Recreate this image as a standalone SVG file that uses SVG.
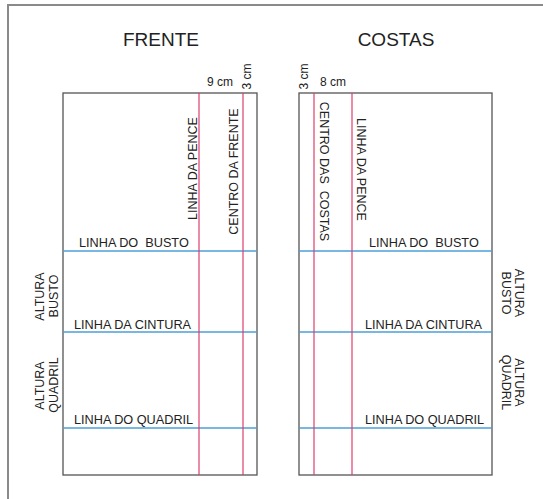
<svg xmlns="http://www.w3.org/2000/svg" width="543" height="499" viewBox="0 0 543 499">
<style>
text{font-family:"Liberation Sans",Arial,sans-serif;fill:#222}
.title{font-size:19px;text-anchor:middle}
.lbl{font-size:12.7px}
.vl{font-size:12.5px;text-anchor:middle}
.sm{font-size:12px}
.panel{fill:#fff;stroke:#555;stroke-width:1.3}
.red{stroke:#dc3f6e;stroke-width:1.2;fill:none}
.blue{stroke:#4a9fd8;stroke-width:1.4;fill:none}
.frame{stroke:#8a8a8a;stroke-width:2;fill:none}
</style>
<rect width="543" height="499" fill="#fff"/>
<path class="frame" d="M8,499 V5 H543"/>
<g id="titles">
<text class="title" x="161" y="46">FRENTE</text>
<text class="title" x="396" y="46">COSTAS</text>
</g>
<g id="frente">
<rect class="panel" x="63" y="93" width="194" height="382"/>
<g id="frente-lines">
<line class="blue" x1="63" y1="251" x2="257" y2="251"/>
<line class="blue" x1="63" y1="332" x2="257" y2="332"/>
<line class="blue" x1="63" y1="428" x2="257" y2="428"/>
<line class="red" x1="199" y1="93" x2="199" y2="475"/>
<line class="red" x1="243" y1="93" x2="243" y2="475"/>
</g>
<text class="sm" x="207" y="86">9 cm</text>
<text class="sm" text-anchor="middle" transform="translate(251,76.5) rotate(-90)">3 cm</text>
<text class="vl" transform="translate(197,168.5) rotate(-90)">LINHA DA PENCE</text>
<text class="vl" transform="translate(238,171.5) rotate(-90)">CENTRO DA FRENTE</text>
<text class="lbl" x="79" y="247" xml:space="preserve">LINHA DO  BUSTO</text>
<text class="lbl" x="74" y="329">LINHA DA CINTURA</text>
<text class="lbl" x="74" y="424">LINHA DO QUADRIL</text>
<text class="vl" transform="translate(44,296.5) rotate(-90)">ALTURA</text>
<text class="vl" transform="translate(58,296) rotate(-90)">BUSTO</text>
<text class="vl" transform="translate(44,385.5) rotate(-90)">ALTURA</text>
<text class="vl" transform="translate(58,385) rotate(-90)">QUADRIL</text>
</g>
<g id="costas">
<rect class="panel" x="299" y="93" width="193" height="382"/>
<g id="costas-lines">
<line class="blue" x1="299" y1="251" x2="492" y2="251"/>
<line class="blue" x1="299" y1="332" x2="492" y2="332"/>
<line class="blue" x1="299" y1="428" x2="492" y2="428"/>
<line class="red" x1="314" y1="93" x2="314" y2="475"/>
<line class="red" x1="352" y1="93" x2="352" y2="475"/>
</g>
<text class="sm" text-anchor="middle" transform="translate(308,76.5) rotate(-90)">3 cm</text>
<text class="sm" x="320" y="86">8 cm</text>
<text class="vl" transform="translate(320,171.5) rotate(90)" xml:space="preserve">CENTRO DAS  COSTAS</text>
<text class="vl" transform="translate(357,169.5) rotate(90)">LINHA DA PENCE</text>
<text class="lbl" x="369" y="247" xml:space="preserve">LINHA DO  BUSTO</text>
<text class="lbl" x="365" y="329">LINHA DA CINTURA</text>
<text class="lbl" x="365" y="424">LINHA DO QUADRIL</text>
<text class="vl" transform="translate(515,293) rotate(90)">ALTURA</text>
<text class="vl" transform="translate(502,293) rotate(90)">BUSTO</text>
<text class="vl" transform="translate(515,382.5) rotate(90)">ALTURA</text>
<text class="vl" transform="translate(502,382.5) rotate(90)">QUADRIL</text>
</g>
</svg>
